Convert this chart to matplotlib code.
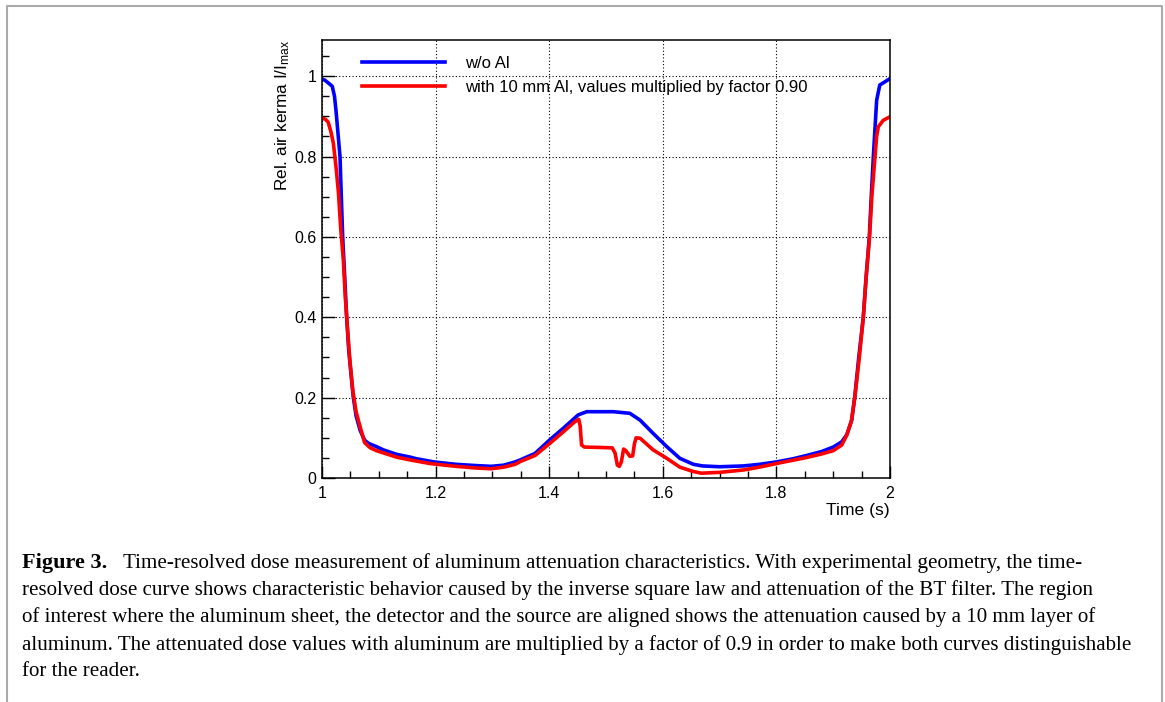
import matplotlib
matplotlib.use("Agg")
import matplotlib.pyplot as plt
from matplotlib.lines import Line2D

# Data (time in s, relative air kerma)
t_blue = [1.000, 1.005, 1.012, 1.018, 1.022, 1.0246, 1.028, 1.0317, 1.034, 1.0364,
          1.040, 1.0434, 1.047, 1.051, 1.0552, 1.060, 1.067, 1.075, 1.082, 1.096,
          1.108, 1.131, 1.155, 1.166, 1.197, 1.236, 1.270, 1.298, 1.320, 1.340,
          1.349, 1.375, 1.401, 1.425, 1.451, 1.466, 1.490, 1.513, 1.542, 1.560,
          1.583, 1.607, 1.630, 1.654, 1.670, 1.700, 1.742, 1.770, 1.800, 1.830,
          1.853, 1.880, 1.900, 1.915, 1.924, 1.9326, 1.938, 1.945, 1.953, 1.958,
          1.9636, 1.967, 1.9707, 1.974, 1.9765, 1.982, 1.990, 2.000]
v_blue = [0.993, 0.990, 0.982, 0.975, 0.950, 0.915, 0.860, 0.800, 0.700, 0.600,
          0.500, 0.400, 0.320, 0.260, 0.200, 0.155, 0.119, 0.094, 0.086, 0.078,
          0.070, 0.059, 0.052, 0.048, 0.040, 0.034, 0.031, 0.029, 0.032, 0.040,
          0.045, 0.061, 0.095, 0.124, 0.157, 0.165, 0.165, 0.165, 0.161, 0.144,
          0.111, 0.078, 0.049, 0.034, 0.030, 0.028, 0.030, 0.034, 0.040, 0.048,
          0.056, 0.066, 0.077, 0.090, 0.108, 0.144, 0.202, 0.300, 0.400, 0.500,
          0.600, 0.700, 0.800, 0.880, 0.940, 0.978, 0.985, 0.994]

t_red = [1.000, 1.006, 1.011, 1.016, 1.020, 1.025, 1.029, 1.033, 1.0376, 1.041,
         1.045, 1.049, 1.054, 1.060, 1.067, 1.075, 1.085, 1.096, 1.131, 1.155,
         1.190, 1.236, 1.270, 1.298, 1.320, 1.340, 1.349, 1.375, 1.401, 1.425,
         1.445, 1.452, 1.4545, 1.457, 1.462, 1.490, 1.511, 1.516, 1.520, 1.5235,
         1.527, 1.531, 1.535, 1.542, 1.547, 1.550, 1.553, 1.560, 1.583, 1.607,
         1.630, 1.654, 1.668, 1.700, 1.742, 1.770, 1.800, 1.853, 1.880, 1.900,
         1.915, 1.924, 1.932, 1.938, 1.946, 1.953, 1.958, 1.964, 1.968, 1.9736,
         1.9765, 1.9794, 1.988, 2.000]
v_red = [0.895, 0.893, 0.885, 0.860, 0.833, 0.770, 0.709, 0.620, 0.542, 0.450,
         0.370, 0.294, 0.220, 0.165, 0.128, 0.088, 0.075, 0.068, 0.052, 0.045,
         0.036, 0.029, 0.025, 0.023, 0.027, 0.034, 0.041, 0.056, 0.086, 0.115,
         0.140, 0.146, 0.130, 0.082, 0.077, 0.076, 0.075, 0.062, 0.032, 0.029,
         0.040, 0.072, 0.068, 0.054, 0.055, 0.085, 0.100, 0.099, 0.070, 0.049,
         0.027, 0.016, 0.012, 0.014, 0.020, 0.027, 0.036, 0.051, 0.060, 0.068,
         0.082, 0.107, 0.142, 0.200, 0.300, 0.400, 0.500, 0.600, 0.700, 0.800,
         0.850, 0.874, 0.890, 0.899]

x_ticks = [1.0, 1.2, 1.4, 1.6, 1.8, 2.0]
x_labels = ["1", "1.2", "1.4", "1.6", "1.8", "2"]
y_ticks = [0.0, 0.2, 0.4, 0.6, 0.8, 1.0]
y_labels = ["0", "0.2", "0.4", "0.6", "0.8", "1"]

label_blue = "w/o Al"
label_red = "with 10 mm Al, values multiplied by factor 0.90"

caption_head = "Figure 3."
caption_lines = [
    "Time-resolved dose measurement of aluminum attenuation characteristics. With experimental geometry, the time-",
    "resolved dose curve shows characteristic behavior caused by the inverse square law and attenuation of the BT filter. The region",
    "of interest where the aluminum sheet, the detector and the source are aligned shows the attenuation caused by a 10 mm layer of",
    "aluminum. The attenuated dose values with aluminum are multiplied by a factor of 0.9 in order to make both curves distinguishable",
    "for the reader.",
]

plt.rcParams['font.family'] = ['Liberation Sans', 'DejaVu Sans']
plt.rcParams['mathtext.fontset'] = 'custom'
plt.rcParams['mathtext.rm'] = 'Liberation Sans'
plt.rcParams['mathtext.it'] = 'Liberation Sans:italic'

W, H = 1165, 702
fig = plt.figure(figsize=(W / 100, H / 100), dpi=100)
fig.patch.set_facecolor('white')

# axes placed in pixel terms
left, right, top, bottom = 322, 890, 40, 478
ax = fig.add_axes([left / W, (H - bottom) / H, (right - left) / W, (bottom - top) / H])

ax.plot(t_blue, v_blue, color='#0000ff', lw=2.6, label=label_blue)
ax.plot(t_red, v_red, color='#ff0000', lw=2.6, label=label_red)

ax.set_xlim(1.0, 2.0)
ax.set_ylim(0.0, 1.09)
ax.set_xticks(x_ticks)
ax.set_xticklabels(x_labels)
ax.set_yticks(y_ticks)
ax.set_yticklabels(y_labels)
ax.set_xticks([1.0 + 0.05 * i for i in range(21)], minor=True)
ax.set_yticks([0.05 * i for i in range(22)], minor=True)

ax.tick_params(which='major', direction='in', length=9, width=1.0, labelsize=11.5, pad=4)
ax.tick_params(which='minor', direction='in', length=5, width=1.0)
ax.tick_params(axis='x', which='major', pad=6)
for s in ax.spines.values():
    s.set_linewidth(1.1)
ax.grid(True, which='major', color='black', linestyle=(0, (1, 2)), linewidth=0.8)

leg = ax.legend(loc='upper left', bbox_to_anchor=(362 / W, (H - 56) / H),
                bbox_transform=fig.transFigure, frameon=False, fontsize=12,
                handlelength=5.0, handletextpad=1.2, labelspacing=0.55,
                borderpad=0, borderaxespad=0)

fig.text(283 / W, (H - top) / H, r"Rel. air kerma I/I$_{\rm max}$", rotation=90,
         ha='center', va='top', fontsize=12.4)
fig.text(right / W, (H - 511) / H, "Time (s)", ha='right', va='center', fontsize=12.6)

# caption
cap_y = [563, 590, 617, 645, 672]
cap_x = 22
head = fig.text(cap_x / W, (H - cap_y[0]) / H, caption_head, ha='left', va='center',
                fontsize=16, fontweight='bold', family='Liberation Serif')
fig.canvas.draw()
head_end = head.get_window_extent().x1
for i, line in enumerate(caption_lines):
    x0 = head_end + 16 if i == 0 else cap_x
    fig.text(x0 / W, (H - cap_y[i]) / H, line, ha='left', va='center',
             fontsize=15.1, family='Liberation Serif')

# page frame
gx0, gx1, gy = 6.5 / W, 1162 / W, 1 - 6 / H
fig.add_artist(Line2D([gx0, gx0, gx1, gx1], [0, gy, gy, 0], color='#aaaaaa', lw=1.5,
                      transform=fig.transFigure))

fig.savefig('out.png', dpi=100)
